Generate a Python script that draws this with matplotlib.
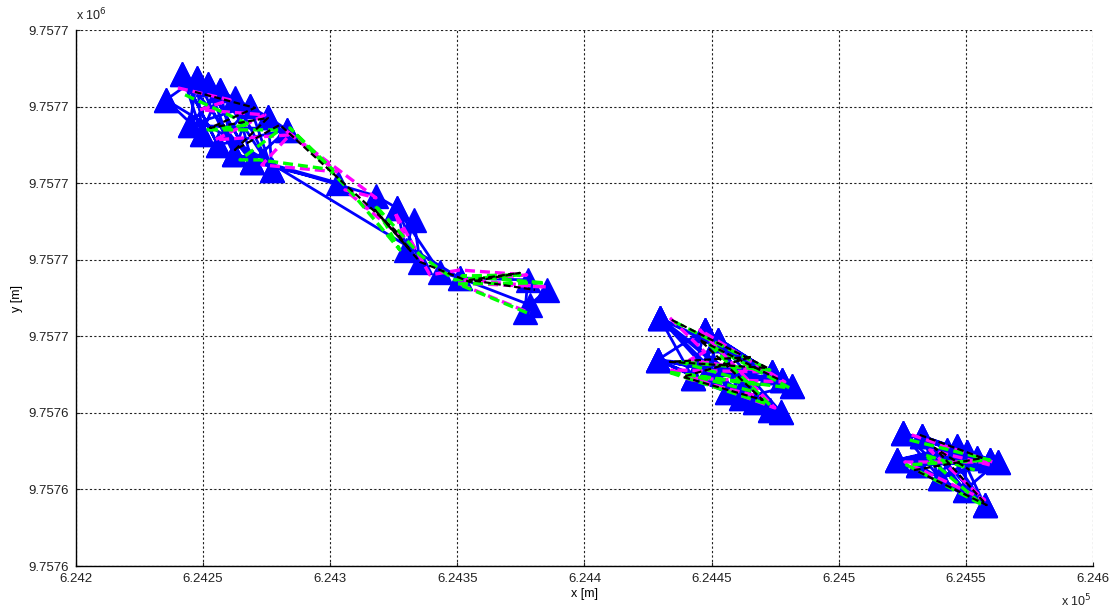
import numpy as np
import matplotlib
matplotlib.use("Agg")
import matplotlib.pyplot as plt

plt.rcParams['font.family'] = ['Liberation Sans', 'DejaVu Sans']

# local grid origin (m)
E0 = 624200.0
N0 = 9757640.0

# ---- group A: first leg + transit ----
a_e = [35.4, 41.7, 47.6, 51.9, 56.6, 62.5, 68.4, 75.5, 83.0, 44.8, 49.5, 55.8, 62.1, 69.2,
       77.1, 103.0, 118.0, 126.2, 132.9, 129.8, 135.3, 143.1, 151.0, 177.7, 185.2, 178.5, 176.6]
a_n = [30.44, 32.14, 31.87, 31.48, 31.09, 30.57, 30.05, 29.33, 28.48, 28.80, 28.22, 27.50,
       26.91, 26.39, 25.87, 25.02, 24.17, 23.38, 22.60, 20.64, 19.86, 19.20, 18.81, 18.68,
       18.03, 17.05, 16.59]
a_order = [0, 2, 9, 4, 10, 1, 11, 6, 12, 3, 13, 5, 14, 7, 8, 13, 15, 12, 16, 17, 19, 18, 20,
           17, 21, 22, 23, 26, 24, 25, 22, 0, 10, 2, 12, 4, 14, 6, 9, 8, 11, 1, 13, 3, 7]

a_mag_e = [40.1, 60.6, 48.8, 74.3, 54.7, 84.1, 73.1, 102.6, 82.2, 118.0, 105.8, 129.4, 125.4,
           139.2, 151.0, 177.3, 153.0, 185.2, 149.8, 178.5]
a_mag_n = [31.22, 30.44, 29.79, 29.46, 27.83, 28.15, 26.19, 25.74, 28.48, 24.04, 24.56, 21.29,
           23.12, 19.01, 19.33, 19.01, 18.68, 18.22, 18.49, 16.53]
a_grn_e = [42.9, 68.4, 50.7, 80.2, 64.5, 72.3, 101.1, 84.1, 108.5, 127.4, 117.6, 135.3, 149.0,
           174.6, 151.8, 184.4, 150.2, 178.5]
a_grn_n = [30.77, 28.81, 28.48, 28.48, 26.52, 26.52, 25.87, 28.61, 24.36, 20.64, 23.58, 20.31,
           18.68, 19.01, 18.94, 18.49, 18.42, 16.46]
a_blk_e = [46.8, 70.4, 52.7, 75.5, 62.5, 80.2, 125.4, 131.3, 117.6, 135.3, 154.9, 174.6, 154.9, 180.5]
a_blk_n = [30.96, 29.92, 28.61, 29.26, 27.17, 28.81, 21.95, 20.64, 23.25, 19.86, 18.55, 19.14,
           18.68, 18.03]

# ---- group B ----
b_e = [229.6, 228.8, 247.3, 252.4, 242.6, 256.0, 261.5, 267.0, 272.9, 277.2, 273.7, 277.6, 281.5, 248.5]
b_n = [16.20, 13.46, 15.42, 14.76, 12.28, 11.37, 10.97, 10.71, 10.19, 10.06, 12.67, 12.15, 11.76, 12.67]
b_order = [0, 10, 1, 2, 4, 3, 13, 11, 0, 5, 2, 12, 1, 6, 3, 7, 4, 8, 0, 9, 13, 10, 5, 11, 2, 8,
           1, 12, 6, 0, 4, 10, 3, 9, 1, 11, 13, 7, 2]

b_mag_e = [233.6, 247.3, 241.4, 272.1, 234.3, 274.9, 245.4, 278.8, 239.5, 270.9]
b_mag_n = [16.20, 13.98, 13.46, 12.67, 12.80, 10.32, 15.42, 12.02, 12.28, 10.97]
b_grn_e = [235.5, 272.9, 237.5, 268.9, 232.8, 272.9, 249.3, 280.7, 241.4, 267.0]
b_grn_n = [15.94, 12.80, 13.33, 11.82, 12.67, 10.52, 14.44, 11.63, 12.48, 11.37]
b_blk_e = [234.3, 272.1, 233.6, 265.8, 238.7, 270.1, 245.4, 276.8]
b_blk_n = [16.07, 12.93, 13.33, 13.65, 12.35, 10.84, 14.76, 12.15]

# ---- group C ----
c_e = [325.2, 332.6, 346.4, 350.3, 354.3, 359.4, 362.5, 322.8, 331.1, 339.7, 349.6, 357.4, 342.5]
c_n = [8.69, 8.49, 7.84, 7.45, 7.05, 6.92, 6.79, 6.92, 6.60, 5.75, 4.96, 3.98, 7.58]
c_order = [0, 5, 7, 2, 8, 6, 1, 9, 4, 0, 10, 3, 7, 11, 2, 9, 5, 8, 12, 11, 1, 10, 6, 9, 0, 4,
           7, 12, 3, 1, 11, 8, 5]

c_mag_e = [328.7, 360.6, 326.0, 357.4, 335.8, 359.4]
c_mag_n = [8.56, 6.79, 6.79, 4.31, 7.58, 6.60]
c_grn_e = [327.9, 359.4, 326.7, 356.6, 333.8, 353.5]
c_grn_n = [8.23, 6.92, 6.60, 3.98, 7.25, 6.27]
c_blk_e = [331.9, 356.6, 329.9, 358.2, 337.8, 351.5]
c_blk_n = [8.56, 7.05, 6.27, 3.98, 7.71, 6.27]

x_ticks = [624200, 624250, 624300, 624350, 624400, 624450, 624500, 624550, 624600]
x_labels = ['6.242', '6.2425', '6.243', '6.2435', '6.244', '6.2445', '6.245', '6.2455', '6.246']
y_ticks = [9757640, 9757645, 9757650, 9757655, 9757660, 9757665, 9757670, 9757675]
y_labels = ['9.7576', '9.7576', '9.7576', '9.7577', '9.7577', '9.7577', '9.7577', '9.7577']

fig = plt.figure(figsize=(11.17, 6.09), dpi=100)
ax = fig.add_axes([0.068, 0.0706, 0.9105, 0.8801])

groups = [
    (a_e, a_n, a_order, (a_mag_e, a_mag_n), (a_grn_e, a_grn_n), (a_blk_e, a_blk_n)),
    (b_e, b_n, b_order, (b_mag_e, b_mag_n), (b_grn_e, b_grn_n), (b_blk_e, b_blk_n)),
    (c_e, c_n, c_order, (c_mag_e, c_mag_n), (c_grn_e, c_grn_n), (c_blk_e, c_blk_n)),
]

for e, n, order, mag, grn, blk in groups:
    e = np.asarray(e); n = np.asarray(n)
    ax.plot(E0 + e[order], N0 + n[order], '-', color='#0000ff', lw=2.0,
            marker='^', ms=17, mec='#0000ff', mfc='#0000ff', zorder=3)
    ax.plot(E0 + np.asarray(mag[0]), N0 + np.asarray(mag[1]), color='#ff00ff', lw=2.4,
            dashes=(3, 1.5), zorder=4)
    ax.plot(E0 + np.asarray(grn[0]), N0 + np.asarray(grn[1]), color='#00ff00', lw=2.4,
            dashes=(3, 1.5), zorder=5)
    ax.plot(E0 + np.asarray(blk[0]), N0 + np.asarray(blk[1]), color='black', lw=1.6,
            dashes=(3, 1.5), zorder=6)

ax.set_xlim(x_ticks[0], x_ticks[-1])
ax.set_ylim(y_ticks[0], y_ticks[-1])
ax.set_xticks(x_ticks)
ax.set_xticklabels(x_labels)
ax.set_yticks(y_ticks)
ax.set_yticklabels(y_labels)
ax.tick_params(direction='in', length=3, labelsize=9.5, colors='#222222')
ax.tick_params(axis='x', pad=5)
ax.tick_params(axis='y', pad=5)
ax.grid(True, color='#222222', lw=0.8, dashes=(2, 2))
ax.set_axisbelow(True)
for side in ['top', 'right']:
    ax.spines[side].set_visible(False)
for side in ['left', 'bottom']:
    ax.spines[side].set_linewidth(1.0)

ax.set_xlabel('x [m]', fontsize=9, labelpad=2)
ax.set_ylabel('y [m]', fontsize=9, labelpad=4)

fig.text(0.068, 0.962, r'x 10$^{6}$', fontsize=9, ha='left', va='bottom', color='#222222')
fig.text(0.950, 0.000, r'x 10$^{5}$', fontsize=9, ha='left', va='bottom', color='#222222')

fig.savefig('out.png', dpi=100)
